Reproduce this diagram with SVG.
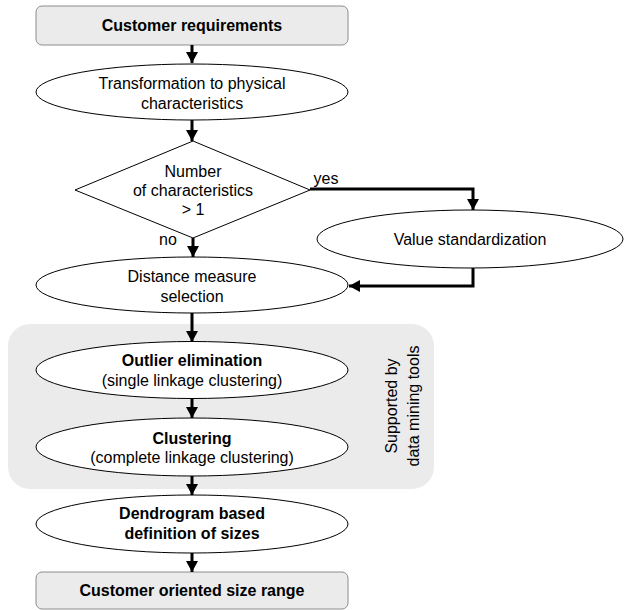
<svg xmlns="http://www.w3.org/2000/svg" width="624" height="610" viewBox="0 0 624 610">
  <style>
    text { font-family: "Liberation Sans", Arial, sans-serif; font-size: 16px; fill: #000; text-anchor: middle; }
    .b { font-weight: bold; }
    .box { fill: #ebebeb; stroke: #8c8c8c; stroke-width: 1; }
    .shape { fill: #fff; stroke: #000; stroke-width: 1; }
    .panel { fill: #ebebeb; stroke: none; }
    .flow { fill: none; stroke: #000; stroke-width: 3; marker-end: url(#head); }
  </style>
  <defs>
    <marker id="head" markerUnits="userSpaceOnUse" markerWidth="12" markerHeight="12" viewBox="0 0 12 12" refX="11" refY="6" orient="auto">
      <path d="M0,0 L11,6 L0,12 Z" fill="#000"/>
    </marker>
  </defs>

  <!-- background area for the tool-supported steps -->
  <g id="tool-panel">
    <rect class="panel" x="8" y="324" width="426" height="165" rx="22"/>
    <text transform="translate(397,406) rotate(-90)">Supported by</text>
    <text transform="translate(419,406) rotate(-90)">data mining tools</text>
  </g>

  <g id="customer-requirements">
    <rect class="box" x="36" y="6" width="312" height="39" rx="6"/>
    <text class="b" x="192" y="31">Customer requirements</text>
  </g>

  <g id="transformation">
    <ellipse class="shape" cx="192" cy="92" rx="156" ry="28"/>
    <text x="192" y="89">Transformation to physical</text>
    <text x="192" y="109">characteristics</text>
  </g>

  <g id="decision">
    <polygon class="shape" points="193,141 310,190 193,238 75,190"/>
    <text x="193" y="177">Number</text>
    <text x="193" y="196">of characteristics</text>
    <text x="193" y="215">&gt; 1</text>
  </g>

  <g id="value-standardization">
    <ellipse class="shape" cx="470" cy="239" rx="153" ry="29"/>
    <text x="470" y="245">Value standardization</text>
  </g>

  <g id="distance-measure">
    <ellipse class="shape" cx="192" cy="285" rx="156" ry="28"/>
    <text x="192" y="282">Distance measure</text>
    <text x="192" y="302">selection</text>
  </g>

  <g id="outlier-elimination">
    <ellipse class="shape" cx="192" cy="370" rx="156" ry="28.5"/>
    <text class="b" x="192" y="366">Outlier elimination</text>
    <text x="192" y="386">(single linkage clustering)</text>
  </g>

  <g id="clustering">
    <ellipse class="shape" cx="192" cy="447" rx="156" ry="29"/>
    <text class="b" x="192" y="444">Clustering</text>
    <text x="192" y="463">(complete linkage clustering)</text>
  </g>

  <g id="dendrogram">
    <ellipse class="shape" cx="192" cy="524" rx="156" ry="29"/>
    <text class="b" x="192" y="519">Dendrogram based</text>
    <text class="b" x="192" y="539">definition of sizes</text>
  </g>

  <g id="size-range">
    <rect class="box" x="36" y="572" width="312" height="37" rx="6"/>
    <text class="b" x="192" y="596">Customer oriented size range</text>
  </g>

  <g id="connectors">
    <path class="flow" d="M192,45 V63"/>
    <path class="flow" d="M192,120 V141"/>
    <path class="flow" d="M193,238 V257"/>
    <path class="flow" d="M310,189 H473 V210"/>
    <path class="flow" d="M473,268 V286 H349"/>
    <path class="flow" d="M192,313 V342"/>
    <path class="flow" d="M192,399 V418"/>
    <path class="flow" d="M192,476 V495"/>
    <path class="flow" d="M192,553 V572"/>
    <text x="326" y="184">yes</text>
    <text x="168" y="245">no</text>
  </g>
</svg>
